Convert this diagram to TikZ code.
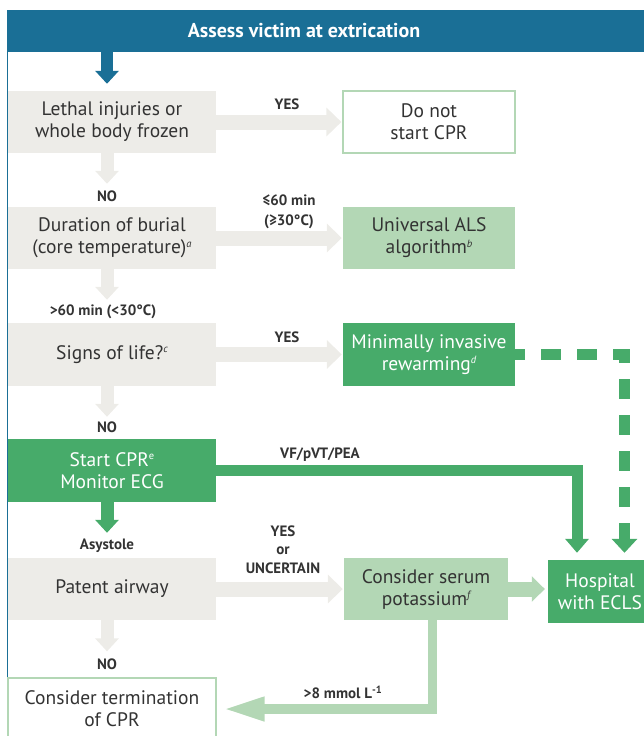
\documentclass[tikz,border=0pt]{standalone}
\usepackage{fontspec}
\setmainfont{PT Sans}
\usetikzlibrary{arrows.meta,calc}

\definecolor{assessblue}{HTML}{1A6F96}
\definecolor{boxgray}{HTML}{EDECE8}
\definecolor{palegreen}{HTML}{B3D7B5}
\definecolor{deepgreen}{HTML}{47AB6A}
\definecolor{inkgray}{HTML}{333333}

\newcommand{\notemark}[1]{\raisebox{6.5pt}{\fontsize{10.5}{10.5}\selectfont #1}}

\begin{document}
\begin{tikzpicture}[x=1pt, y=-1pt,
		box/.style={inner sep=0pt, minimum height=62pt, align=center, text=inkgray, font=\fontsize{19.5}{22}\selectfont},
		leftbox/.style={box, minimum width=208pt},
		rightbox/.style={box, minimum width=172pt},
		cond/.style={font=\bfseries\fontsize{15}{18.5}\selectfont, text=inkgray, align=center},
		downflow/.style={line width=13pt, -{Triangle[length=13pt, width=23pt]}},
		rightflow/.style={line width=15pt, -{Triangle[length=15pt, width=28pt]}}]
		\useasboundingbox (0, 0) rectangle (644, 736);
		% header bar and frame
		\node [fill=assessblue, minimum width=653pt, minimum height=42pt, inner sep=0pt, anchor=north west] (bar) at (7, 10) {};
		\node [font=\bfseries\fontsize{20}{19}\selectfont, text=white] (assess) at (304, 31) {Assess victim at extrication};
		\draw [assessblue, line width=1.3pt] ([xshift=0.65pt]bar.south west) -- ++(0, 690);
		% left column
		\node [leftbox, fill=boxgray] (lethal) at (112, 122) {Lethal injuries or\\whole body frozen};
		\node [leftbox, fill=boxgray] (burial) at (112, 238) {Duration of burial\\(core temperature)\notemark{\itshape a}};
		\node [leftbox, fill=boxgray, minimum height=63pt] (life) at (112, 354.5) {Signs of life?\notemark{\itshape c}};
		\node [leftbox, fill=deepgreen, text=white, minimum height=63pt] (cpr) at (112, 470.5) {Start CPR\notemark{e}\\Monitor ECG};
		\node [leftbox, fill=boxgray] (airway) at (112, 589) {Patent airway};
		\node [leftbox, fill=white, draw=palegreen, line width=1.2pt] (term) at (112, 709) {Consider termination\\of CPR};
		% right column
		\node [rightbox, fill=white, draw=palegreen, line width=1.2pt] (donot) at (429, 122) {Do not\\start CPR};
		\node [rightbox, fill=palegreen] (als) at (429, 238) {Universal ALS\\algorithm\notemark{\itshape b}};
		\node [rightbox, fill=deepgreen, text=white, minimum height=63pt] (rewarm) at (429, 354.5) {Minimally invasive\\rewarming\notemark{\itshape d}};
		\node [box, minimum width=164pt, fill=palegreen] (potassium) at (426, 589) {Consider serum\\potassium\notemark{\itshape f}};
		\node [box, minimum width=104pt, minimum height=63pt, fill=deepgreen, text=white] (hospital) at (600, 591.5) {Hospital\\with ECLS};
		% arrows down
		\draw [downflow, assessblue, line width=12pt, shorten >=7pt] ($(lethal.north |- bar.south)+(-5, 0)$) to ([xshift=-5pt]lethal.north);
		\draw [downflow, boxgray, shorten >=23pt] ([xshift=-5pt]lethal.south) to ([xshift=-5pt]burial.north);
		\draw [downflow, boxgray, shorten >=23pt] ([xshift=-5pt]burial.south) to ([xshift=-5pt]life.north);
		\draw [downflow, boxgray, shorten >=22pt] ([xshift=-5pt]life.south) to ([xshift=-5pt]cpr.north);
		\draw [downflow, deepgreen, shorten >=25pt] ([xshift=-5pt]cpr.south) to ([xshift=-5pt]airway.north);
		\draw [downflow, boxgray, shorten >=26pt] ([xshift=-5pt]airway.south) to ([xshift=-5pt]term.north);
		% arrows right
		\draw [rightflow, boxgray, shorten >=1pt] (lethal.east) to (donot.west);
		\draw [rightflow, boxgray, shorten >=1pt] (burial.east) to (als.west);
		\draw [rightflow, boxgray, shorten >=1pt] (life.east) to (rewarm.west);
		\draw [rightflow, boxgray, shorten >=1pt] (airway.east) to (potassium.west);
		\draw [palegreen, line width=15pt, -{Triangle[length=13pt, width=25pt]}, shorten >=3pt] (potassium.east) to (potassium.east -| hospital.west);
		% to hospital and back to termination
		\draw [deepgreen, line width=10.5pt, dash pattern=on 20pt off 16pt, dash phase=10pt, -{Triangle[length=14pt, width=25pt]}, shorten >=7pt] (rewarm.east) -| ([xshift=24.5pt]hospital.north);
		\draw [deepgreen, line width=11pt, -{Triangle[length=14pt, width=23pt]}, shorten >=7pt] (cpr.east) -| ([xshift=-23pt]hospital.north);
		\draw [palegreen, line width=9.5pt, -{Triangle[length=42pt, width=22pt]}, shorten >=6pt] ([xshift=6.5pt]potassium.south) |- (term.east);
		% conditions
		\node [cond] (yes1) at (287, 104) {YES};
		\node [cond] (no1) at (107, 196) {NO};
		\node [cond] (short) at (289, 212) {≤60 min\\[2pt](≥30°C)};
		\node [cond] (long) at (103, 312) {>60 min (<30°C)};
		\node [cond] (yes2) at (287, 337) {YES};
		\node [cond] (no2) at (107, 427) {NO};
		\node [cond] (shock) at (320, 455) {VF/pVT/PEA};
		\node [cond] (asys) at (107, 546) {Asystole};
		\node [cond] (yes3) at (283, 549.5) {YES\\or\\UNCERTAIN};
		\node [cond] (no3) at (107, 664) {NO};
		\node [cond] (kplus) at (343, 692) {>8 mmol L\textsuperscript{-1}};
	\end{tikzpicture}
\end{document}
